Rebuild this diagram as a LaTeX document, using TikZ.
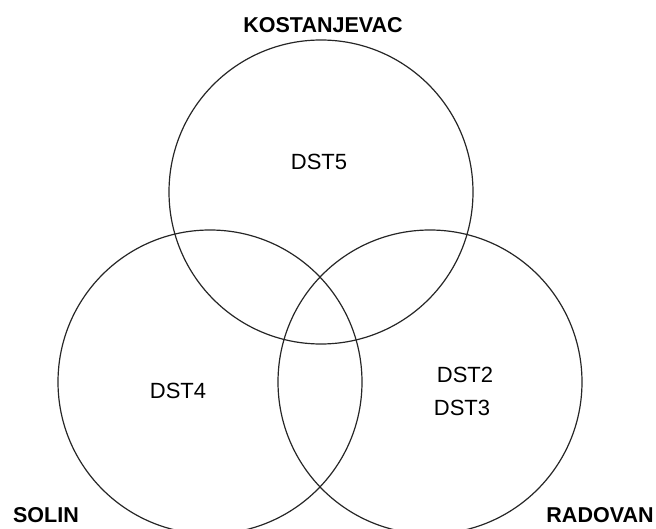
\documentclass[tikz,border=0pt]{standalone}
\usepackage{fontspec}
\setmainfont{Liberation Sans}
\usepackage{tikz}
\usetikzlibrary{positioning}

\begin{document}
\begin{tikzpicture}[x=1pt, y=-1pt,
    setring/.style={draw=black!85, line width=1.2pt},
    place/.style={font=\fontsize{21.5}{24}\selectfont\bfseries, inner sep=0pt},
    item/.style={font=\fontsize{22}{24}\selectfont, inner sep=0pt}]
  \useasboundingbox (0,0) rectangle (656,529);

  % three sets
  \draw[setring] (321,192) circle (152pt);
  \draw[setring] (210,382) circle (152pt);
  \draw[setring] (430,382) circle (152pt);

  % set names
  \node[place] (kost) at (323,25) {KOSTANJEVAC};
  \node[place] (solin) at (46,515) {SOLIN};
  \node[place] (rad) at (600,515) {RADOVAN};

  % members
  \node[item] (dst5) at (319,162) {DST5};
  \node[item] (dst4) at (178,391) {DST4};
  \node[item] (dst2) at (465,375) {DST2};
  \node[item] (dst3) at (462,408) {DST3};
\end{tikzpicture}
\end{document}
